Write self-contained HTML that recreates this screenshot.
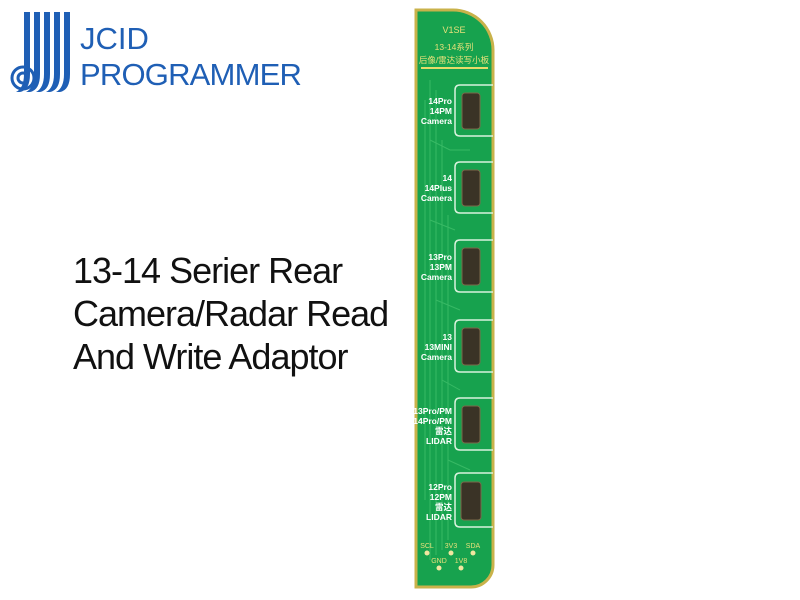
<!DOCTYPE html>
<html><head><meta charset="utf-8"><style>
html,body{margin:0;padding:0;background:#fff;width:800px;height:600px;overflow:hidden;position:relative;font-family:"Liberation Sans","Noto Sans CJK SC",sans-serif}
.t{position:absolute;left:73px;font-size:36px;color:#111;line-height:43px;top:249px;letter-spacing:-1px;white-space:nowrap}
.logo{position:absolute;color:#1f5fb5;font-size:31px;left:80px}
</style></head><body>
<svg style="position:absolute;left:0;top:0" width="800" height="600">
 <g fill="#1f5fb5">
  <path d="M24 12h6v62q0 16 -10 18h-4q8 -4 8 -18z"/>
  <path d="M34 12h6v62q0 16 -10 18h-4q8 -4 8 -18z"/>
  <path d="M44 12h6v62q0 16 -10 18h-4q8 -4 8 -18z"/>
  <path d="M54 12h6v62q0 16 -10 18h-4q8 -4 8 -18z"/>
  <path d="M64 12h6v62q0 16 -10 18h-4q8 -4 8 -18z"/>
  <circle cx="23" cy="78" r="11" fill="none" stroke="#1f5fb5" stroke-width="3"/>
  <circle cx="23" cy="78" r="5" fill="none" stroke="#1f5fb5" stroke-width="3"/>
 </g>
 <path d="M416 10 H453 A40 40 0 0 1 493 50 V565 A22 22 0 0 1 471 587 H416 Z" fill="#17a24e" stroke="#c9b24a" stroke-width="3"/>
 <line x1="421" y1="68" x2="488" y2="68" stroke="#e6dc6a" stroke-width="2"/>
 <g stroke="#3fbf6a" stroke-width="1" fill="none" opacity="0.8">
  <path d="M430 80 V560"/><path d="M436 90 V555"/><path d="M442 140 V550"/><path d="M448 215 V540"/>
  <path d="M425 100 V500"/><path d="M430 140 L450 150 L470 150"/><path d="M430 220 L455 230"/>
  <path d="M436 300 L460 310"/><path d="M442 380 L460 390"/><path d="M448 460 L470 470"/>
 </g>
 <g fill="none" stroke="#d9f2dd" stroke-width="1.5">
  <path d="M493 85 H460 Q455 85 455 90 V131 Q455 136 460 136 H493"/>
  <path d="M493 162 H460 Q455 162 455 167 V208 Q455 213 460 213 H493"/>
  <path d="M493 240 H460 Q455 240 455 245 V287 Q455 292 460 292 H493"/>
  <path d="M493 320 H460 Q455 320 455 325 V367 Q455 372 460 372 H493"/>
  <path d="M493 398 H460 Q455 398 455 403 V445 Q455 450 460 450 H493"/>
  <path d="M493 473 H460 Q455 473 455 478 V522 Q455 527 460 527 H493"/>
 </g>
 <g fill="#3a3326" stroke="#7a6a4a" stroke-width="1">
  <rect x="462" y="93" width="18" height="36" rx="3"/>
  <rect x="462" y="170" width="18" height="36" rx="3"/>
  <rect x="462" y="248" width="18" height="37" rx="3"/>
  <rect x="462" y="328" width="18" height="37" rx="3"/>
  <rect x="462" y="406" width="18" height="37" rx="3"/>
  <rect x="461" y="482" width="20" height="38" rx="3"/>
 </g>
 <g fill="#f1e6a0">
  <circle cx="427" cy="553" r="2.5"/><circle cx="451" cy="553" r="2.5"/><circle cx="473" cy="553" r="2.5"/>
  <circle cx="439" cy="568" r="2.5"/><circle cx="461" cy="568" r="2.5"/>
 </g>
 <g font-family="Liberation Sans,Noto Sans CJK SC,sans-serif" font-size="7" fill="#e6e07a" text-anchor="middle">
  <text x="454" y="33" font-size="9">V1SE</text>
  <text x="454" y="50" font-size="8.5">13-14系列</text>
  <text x="454" y="63" font-size="8.5">后像/雷达读写小板</text>
  <text x="427" y="548">SCL</text><text x="451" y="548">3V3</text><text x="473" y="548">SDA</text>
  <text x="439" y="563">GND</text><text x="461" y="563">1V8</text>
 </g>
 <g font-family="Liberation Sans,Noto Sans CJK SC,sans-serif" font-size="8.5" font-weight="bold" fill="#fff" text-anchor="end">
  <text x="452" y="104">14Pro</text><text x="452" y="114">14PM</text><text x="452" y="124">Camera</text>
  <text x="452" y="181">14</text><text x="452" y="191">14Plus</text><text x="452" y="201">Camera</text>
  <text x="452" y="260">13Pro</text><text x="452" y="270">13PM</text><text x="452" y="280">Camera</text>
  <text x="452" y="340">13</text><text x="452" y="350">13MINI</text><text x="452" y="360">Camera</text>
  <text x="452" y="414">13Pro/PM</text><text x="452" y="424">14Pro/PM</text><text x="452" y="434">雷达</text><text x="452" y="444">LIDAR</text>
  <text x="452" y="490">12Pro</text><text x="452" y="500">12PM</text><text x="452" y="510">雷达</text><text x="452" y="520">LIDAR</text>
 </g>
</svg>
<div class="logo" style="top:21px">JCID</div>
<div class="logo" style="top:57px;letter-spacing:-0.8px">PROGRAMMER</div>
<div class="t">13-14 Serier Rear<br>Camera/Radar Read<br>And Write Adaptor</div>
</body></html>
